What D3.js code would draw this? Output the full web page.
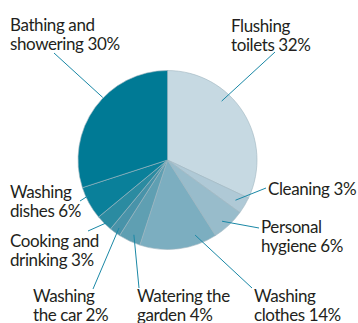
<!DOCTYPE html>
<html><head><meta charset="utf-8">
<script src="https://cdn.jsdelivr.net/npm/d3@7"></script>
<style>html,body{margin:0;padding:0;background:#fff;}svg{display:block;}</style>
</head><body>
<script>
const categories = ["Flushing toilets","Cleaning","Personal hygiene","Washing clothes","Watering the garden","Washing the car","Cooking and drinking","Washing dishes","Bathing and showering"];
const values = [32,3,6,14,4,2,3,6,30];
const labelLines = [["Flushing","toilets 32%"],["Cleaning 3%"],["Personal","hygiene 6%"],["Washing","clothes 14%"],["Watering the","garden 4%"],["Washing","the car 2%"],["Cooking and","drinking 3%"],["Washing","dishes 6%"],["Bathing and","showering 30%"]];
const colors = ["#c6d9e2","#afc9d6","#98bccb","#7caec0","#5f9fb2","#4893a9","#2b8ba1","#0a809a","#007a95"];

// layout (positions only)
const W=358,H=323, cx=167.5, cy=160, R=89.5;
const layout = [
  {a:-15, r:80, tx:231, ty:31.5, ex:275, ey:52},
  {a:0, r:79, tx:268, ty:195, ex:266, ey:188},
  {a:1.5, r:82, tx:261, ty:233, ex:259, ey:228},
  {a:-13, r:80, tx:254, ty:301.5, ex:252, ey:288},
  {a:-1, r:82, tx:137, ty:301.5, ex:139, ey:288},
  {a:-0.5, r:83.5, tx:33, ty:301.5, ex:93, ey:289},
  {a:-0.7, r:88, tx:10, ty:247, ex:88, ey:231},
  {a:4.5, r:87, tx:10, ty:198, ex:80, ey:201},
  {a:8, r:90, tx:10, ty:31, ex:54, ey:53}
];

const svg=d3.select("body").append("svg").attr("width",W).attr("height",H);
const pie=d3.pie().sort(null).value(d=>d)(values);
const arc=d3.arc().innerRadius(0).outerRadius(R);
const g=svg.append("g").attr("transform",`translate(${cx},${cy})`);
g.selectAll("path").data(pie).join("path")
  .attr("d",arc).attr("fill",(d,i)=>colors[i])
  .attr("stroke","#9fb5bf").attr("stroke-width",0.6);

const lineG=svg.append("g");
pie.forEach((d,i)=>{
  const L=layout[i];
  const ang=(d.startAngle+d.endAngle)/2 + L.a*Math.PI/180;
  const x1=cx+L.r*Math.sin(ang), y1=cy-L.r*Math.cos(ang);
  lineG.append("line").attr("x1",x1).attr("y1",y1).attr("x2",L.ex).attr("y2",L.ey)
    .attr("stroke","#1a88a6").attr("stroke-width",1);
  const t=svg.append("text").attr("x",L.tx).attr("y",L.ty)
    .attr("font-family","Lato").attr("font-size",17).attr("letter-spacing",-0.4).attr("fill","#231f20");
  labelLines[i].forEach((s,k)=>t.append("tspan").attr("x",L.tx).attr("dy",k?19:0).text(s));
});
</script>
</body></html>
